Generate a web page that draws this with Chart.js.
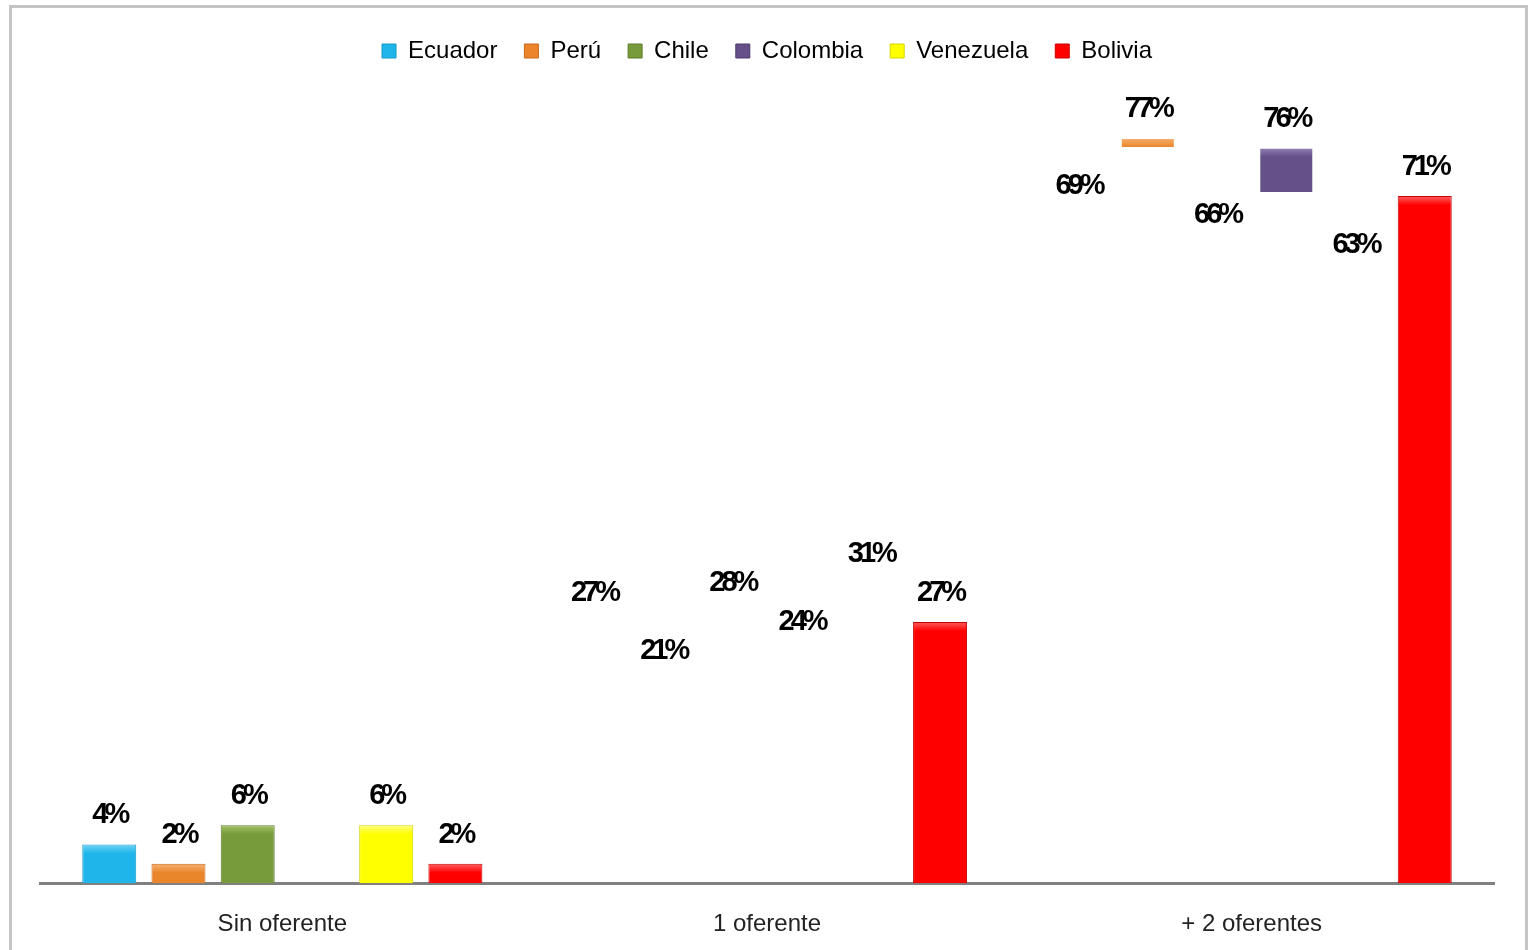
<!DOCTYPE html>
<html>
<head>
<meta charset="utf-8">
<script src="https://cdn.jsdelivr.net/npm/chart.js@4.4.1/dist/chart.umd.min.js"></script>
<style>
  html, body { margin: 0; padding: 0; background: #fff; overflow: hidden; height: 950px; }
  #frame {
    position: absolute; left: 9px; top: 5px;
    width: 1519px; height: 1000px;
    border: 3px solid #c4c4c4; box-sizing: border-box;
  }
  #wrap { position: absolute; left: 0; top: 0; width: 1531px; height: 958px; }
</style>
</head>
<body>
<div id="frame"></div>
<div id="wrap"><canvas id="ofertaChart" width="1531" height="958"></canvas></div>
<script>
// categorías y porcentajes por país
const categories = ['Sin oferente', '1 oferente', '+ 2 oferentes'];
const ecuador   = [4, 27, 69];
const peru      = [2, 21, 77];
const chile     = [6, 28, 66];
const colombia  = [null, 24, 76];
const venezuela = [6, 31, 63];
const bolivia   = [2, 27, 71];

const paises  = ['Ecuador', 'Perú', 'Chile', 'Colombia', 'Venezuela', 'Bolivia'];
const valores = [ecuador, peru, chile, colombia, venezuela, bolivia];
const colores = ['#1fb5ea', '#ea852c', '#779a3a', '#65508a', '#ffff00', '#ff0000'];
const claros  = ['#6fd3f5', '#f7b070', '#a3c266', '#9583b5', '#ffff80', '#ff6060'];
const bordes  = ['#1398c8', '#c9681a', '#5e7c2a', '#4e3b6e', '#d6d600', '#c80000'];

// cuánto del relleno se ve de cada barra (px desde arriba); Infinity = completa, 0 = sin relleno
const relleno = [
  [Infinity, 0, 0],
  [Infinity, 0, 4],
  [Infinity, 0, 0],
  [0, 0, 44],
  [Infinity, 0, 0],
  [Infinity, Infinity, Infinity]
];

function fillFor(ctx) {
  const i = ctx.datasetIndex;
  const color = colores[i];
  if (ctx.type !== 'data') return color;
  const depth = relleno[i][ctx.dataIndex];
  if (!depth) return 'rgba(0,0,0,0)';
  const y = ctx.chart.scales.y;
  const top = y.getPixelForValue(ctx.raw);
  const base = y.getPixelForValue(0);
  const h = base - top;
  const g = ctx.chart.ctx.createLinearGradient(0, top, 0, base);
  const bevel = Math.min(0.5, 9 / h);
  g.addColorStop(0, claros[i]);
  g.addColorStop(bevel, color);
  if (depth === Infinity) {
    g.addColorStop(1, color);
  } else {
    const f = Math.min(1, depth / h);
    g.addColorStop(Math.max(bevel, f), color);
    g.addColorStop(Math.max(bevel, f), 'rgba(0,0,0,0)');
    g.addColorStop(1, 'rgba(0,0,0,0)');
  }
  return g;
}

// más aire debajo de la leyenda
const leyendaAlta = {
  id: 'leyendaAlta',
  beforeInit(chart) {
    const fit = chart.legend.fit;
    chart.legend.fit = function () {
      fit.call(this);
      this.height += 36;
    };
  }
};

// etiquetas de porcentaje encima de cada barra
const etiquetas = {
  id: 'etiquetas',
  afterDatasetsDraw(chart) {
    const c = chart.ctx;
    const y = chart.scales.y;
    c.save();
    c.font = 'bold 29px "Liberation Sans", Arial, sans-serif';
    c.letterSpacing = '-4px';
    c.fillStyle = '#000';
    c.textAlign = 'center';
    c.textBaseline = 'middle';
    chart.data.datasets.forEach((ds, i) => {
      const meta = chart.getDatasetMeta(i);
      ds.data.forEach((v, j) => {
        if (v === null) return;
        const bar = meta.data[j];
        c.fillText(v + '%', bar.x, y.getPixelForValue(v) - 29);
      });
    });
    c.restore();
  }
};

new Chart(document.getElementById('ofertaChart'), {
  type: 'bar',
  data: {
    labels: categories,
    datasets: paises.map((p, i) => ({
      label: p,
      data: valores[i],
      backgroundColor: fillFor,
      borderColor: ctx => (ctx.type === 'data' && relleno[ctx.datasetIndex][ctx.dataIndex] !== Infinity) ? 'rgba(0,0,0,0)' : bordes[i],
      borderWidth: 1,
      borderSkipped: 'bottom',
      categoryPercentage: 0.857,
      barPercentage: 0.78
    }))
  },
  options: {
    responsive: false,
    animation: false,
    layout: { padding: { left: 40, right: 37, top: 12, bottom: 0 } },
    plugins: {
      tooltip: { enabled: false },
      legend: {
        position: 'top',
        labels: {
          boxWidth: 14,
          boxHeight: 14,
          padding: 27,
          color: '#1a1a24',
          font: { family: '"Liberation Sans", Arial, sans-serif', size: 24 },
          generateLabels: chart => chart.data.datasets.map((ds, i) => ({
            text: ds.label,
            fillStyle: colores[i],
            strokeStyle: bordes[i],
            lineWidth: 1,
            datasetIndex: i
          }))
        }
      }
    },
    scales: {
      x: {
        grid: { display: false },
        border: { color: '#808080', width: 3 },
        ticks: {
          color: '#222',
          padding: 19,
          font: { family: '"Liberation Sans", Arial, sans-serif', size: 24 }
        }
      },
      y: {
        display: false,
        min: 0,
        max: 80
      }
    }
  },
  plugins: [leyendaAlta, etiquetas]
});
</script>
</body>
</html>
